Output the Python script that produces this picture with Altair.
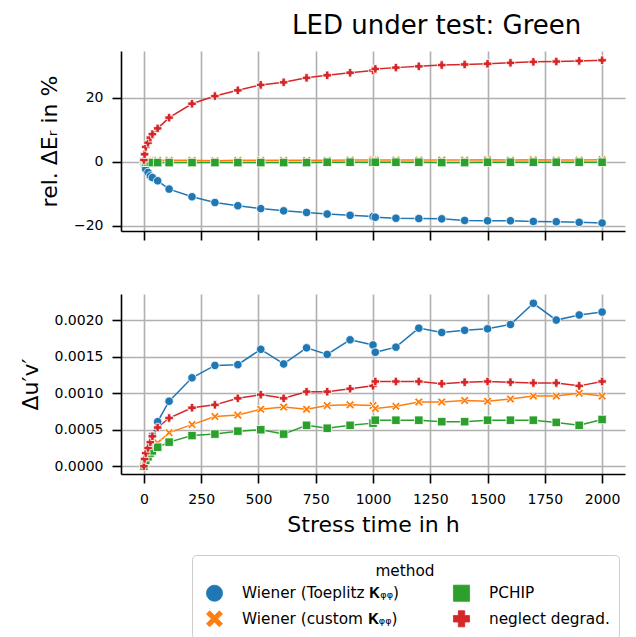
import altair as alt
import pandas as pd

times = [0, 3, 8, 18, 28, 37, 60, 110, 210, 310, 410, 510, 610, 710, 800, 900,
         1000, 1010, 1100, 1200, 1300, 1400, 1500, 1600, 1700, 1800, 1900, 2000]

methods = ["Wiener (Toeplitz 𝐊ᵩᵩ)", "Wiener (custom 𝐊ᵩᵩ)", "PCHIP", "neglect degrad."]

# top panel: rel. Delta E_r in %
blue_top = [0.0, -1.2, -2.4, -3.4, -4.5, -5.0, -6.0, -8.6, -11.0, -12.8, -13.8, -14.7, -15.4, -15.9,
            -16.4, -16.8, -17.2, -17.4, -17.7, -17.8, -17.9, -18.4, -18.5, -18.5, -18.7, -18.8, -19.0, -19.2]
orange_top = [0.0, 0.2, 0.3, 0.4, 0.4, 0.4, 0.4, 0.4, 0.4, 0.3, 0.4, 0.4, 0.4, 0.4,
              0.4, 0.5, 0.5, 0.5, 0.5, 0.5, 0.5, 0.5, 0.6, 0.5, 0.6, 0.5, 0.5, 0.6]
green_top = [0.0, -0.1, -0.2, -0.2, -0.2, -0.3, -0.3, -0.3, -0.3, -0.3, -0.3, -0.3, -0.3, -0.3,
             -0.2, -0.2, -0.2, -0.2, -0.2, -0.2, -0.3, -0.3, -0.2, -0.2, -0.2, -0.2, -0.2, -0.2]
red_top = [0.5, 2.3, 4.6, 5.9, 7.5, 8.6, 10.4, 13.75, 18.1, 20.5, 22.3, 24.0, 24.8, 26.2,
           27.0, 27.8, 28.5, 29.0, 29.4, 29.8, 30.2, 30.4, 30.6, 30.9, 31.2, 31.3, 31.5, 31.7]

# bottom panel: Delta u'v'
blue_bot = [0.0, 0.00005, 0.0001, 0.0002, 0.0003, 0.00042, 0.00061, 0.00089, 0.00121, 0.00138,
            0.00139, 0.0016, 0.0014, 0.00162, 0.00153, 0.00173, 0.00166, 0.00156, 0.00163, 0.00189,
            0.00183, 0.00186, 0.00188, 0.00194, 0.00223, 0.002, 0.00207, 0.00211]
orange_bot = [0.0, 0.00005, 0.0001, 0.00017, 0.00023, 0.00027, 0.00032, 0.00046, 0.00057, 0.00068,
              0.0007, 0.00078, 0.00081, 0.00078, 0.00083, 0.00084, 0.00083, 0.00079, 0.00082, 0.00088,
              0.00088, 0.0009, 0.00089, 0.00092, 0.00096, 0.00096, 0.001, 0.00096]
green_bot = [0.0, 0.00004, 0.00008, 0.00013, 0.00018, 0.00021, 0.00026, 0.00033, 0.00042, 0.00044,
             0.00048, 0.0005, 0.00044, 0.00056, 0.00052, 0.00056, 0.00059, 0.00063, 0.00063, 0.00063,
             0.00061, 0.00061, 0.00063, 0.00063, 0.00063, 0.0006, 0.00056, 0.00064]
red_bot = [0.0, 0.0001, 0.00018, 0.00025, 0.00033, 0.00041, 0.00053, 0.00066, 0.0008, 0.00084,
           0.00093, 0.00098, 0.00093, 0.00102, 0.00102, 0.00106, 0.0011, 0.00116, 0.00116, 0.00116,
           0.00113, 0.00115, 0.00116, 0.00115, 0.00114, 0.00114, 0.0011, 0.00116]

x_ticks = [0, 250, 500, 750, 1000, 1250, 1500, 1750, 2000]
top_ticks = [-20, 0, 20]
bot_ticks = [0.0, 0.0005, 0.001, 0.0015, 0.002]


def make_df(series):
    rows = []
    for order, (m, vals) in enumerate(zip(methods, series)):
        for t, v in zip(times, vals):
            rows.append({"time": t, "value": v, "method": m, "ord": order})
    return pd.DataFrame(rows)


df_top = make_df([blue_top, orange_top, green_top, red_top])
df_bot = make_df([blue_bot, orange_bot, green_bot, red_bot])

color_range = ["#1f77b4", "#ff7f0e", "#2ca02c", "#d62728"]
X_PATH = "M-1,-0.6L-0.6,-1L0,-0.4L0.6,-1L1,-0.6L0.4,0L1,0.6L0.6,1L0,0.4L-0.6,1L-1,0.6L-0.4,0Z"
shape_range = ["circle", X_PATH, "square", "cross"]

color_scale = alt.Scale(domain=methods, range=color_range)
shape_scale = alt.Scale(domain=methods, range=shape_range)
x_scale = alt.Scale(domain=[-100, 2100], nice=False, zero=False)

legend = alt.Legend(
    title="method", orient="none", legendX=71, legendY=504, columns=2,
    symbolSize=260, labelFontSize=15.3, titleFontSize=15.3, titleFontWeight="normal",
    titleAnchor="middle", strokeColor="#cccccc", padding=9, cornerRadius=4,
    fillColor="white", columnPadding=49, rowPadding=5, labelOffset=19, symbolOffset=5,
    symbolStrokeColor="white", symbolStrokeWidth=0.8, symbolOpacity=1,
    labelColor="black", titleColor="black", symbolType="circle",
)


def panel(df, ytitle, ydomain, yticks, yfmt, bottom):
    if bottom:
        xaxis = alt.Axis(values=x_ticks, title="Stress time in h", format="d",
                         labelPadding=9, titlePadding=8)
    else:
        xaxis = alt.Axis(values=x_ticks, labels=False, title=None)
    x = alt.X("time:Q", scale=x_scale, axis=xaxis)
    y = alt.Y("value:Q", scale=alt.Scale(domain=ydomain, nice=False, zero=False),
              axis=alt.Axis(values=yticks, format=yfmt, title=ytitle,
                            labelPadding=9, titlePadding=12))
    base = alt.Chart(df)
    lines = base.mark_line(strokeWidth=1.5).encode(
        x=x, y=y,
        color=alt.Color("method:N", scale=color_scale, legend=legend),
        detail="ord:N",
    )
    pts = base.mark_point(filled=True, size=72, stroke="white", strokeWidth=0.8, opacity=1).encode(
        x=x, y=y,
        color=alt.Color("method:N", scale=color_scale, legend=legend),
        shape=alt.Shape("method:N", scale=shape_scale, legend=legend),
        order="ord:Q",
    )
    return alt.layer(lines, pts).properties(width=504, height=180)


top = panel(df_top, "rel. ΔEᵣ in %", [-21.7, 34.6], top_ticks, "d", False)
bot = panel(df_bot, "Δu′v′", [-0.000106, 0.002357], bot_ticks, ".4f", True)

chart = alt.vconcat(top, bot, spacing=63, bounds="flush").properties(
    title=alt.Title("LED under test: Green", fontSize=26, fontWeight="normal",
                    anchor="start", dx=273, offset=12, color="black"),
    padding={"left": 19, "top": 13, "right": 5, "bottom": 5},
).configure(font="DejaVu Sans").configure_view(stroke=None).configure_axis(
    domainColor="black", domainWidth=1.6, tickColor="black", tickWidth=1.6, tickSize=9,
    gridColor="#b0b0b0", gridWidth=1.6, labelFontSize=14, titleFontSize=22,
    labelColor="black", titleColor="black", titleFontWeight="normal",
)

chart.save("out.html", embed_options={"renderer": "svg", "actions": False})
